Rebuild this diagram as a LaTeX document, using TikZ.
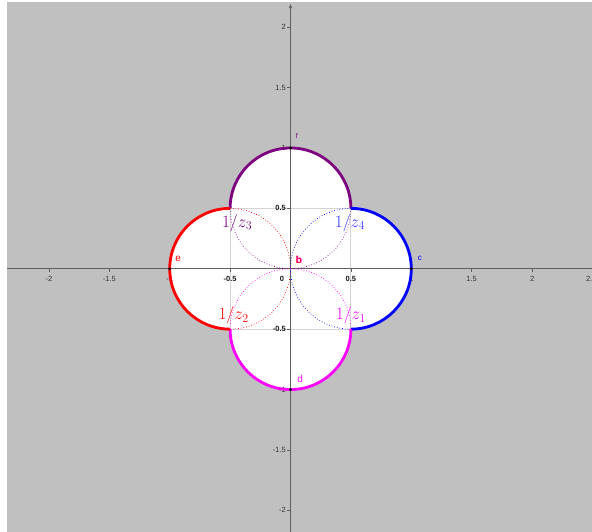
\documentclass[tikz,border=0pt]{standalone}
\usepackage{fontspec}
\setsansfont{Liberation Sans}
\usetikzlibrary{arrows.meta}
\definecolor{bggray}{RGB}{192,192,192}
\definecolor{gridgray}{RGB}{212,212,212}
\definecolor{axgray}{RGB}{95,95,95}
\definecolor{cred}{RGB}{255,0,0}
\definecolor{cblue}{RGB}{0,0,255}
\definecolor{cpurple}{RGB}{125,0,128}
\definecolor{cmag}{RGB}{255,0,255}
\begin{document}
\begin{tikzpicture}[x=120.8pt,y=120.8pt,
  ticklab/.style={font=\sffamily\fontsize{7.5}{9}\selectfont, text=black!80, inner sep=0pt},
  boldlab/.style={font=\sffamily\bfseries\fontsize{7.5}{9}\selectfont, text=black!90, inner sep=0pt},
  thickarc/.style={line width=2.8pt},
  dotarc/.style={dotted, line width=0.7pt},
  zlab/.style={font=\fontsize{17}{20}\selectfont, inner sep=0pt},
  ptlab/.style={font=\sffamily\fontsize{10}{12}\selectfont, inner sep=0pt},
  ptdot/.style={circle, fill=black, inner sep=0pt, minimum size=3pt},
  gridline/.style={draw=gridgray, line width=0.8pt},
  axisline/.style={draw=axgray, line width=1pt}]
\useasboundingbox (-2.405,-2.179) rectangle (2.496,2.225);
% background
\fill[bggray] (-2.347,-2.179) rectangle (2.496,2.209);
% white region
\fill[white] (-0.5,0.5) arc[start angle=180,end angle=0,radius=0.5]
  arc[start angle=90,end angle=-90,radius=0.5]
  arc[start angle=0,end angle=-180,radius=0.5]
  arc[start angle=270,end angle=90,radius=0.5] -- cycle;
% grid (visible only on the white region)
\begin{scope}
\clip (-0.5,0.5) arc[start angle=180,end angle=0,radius=0.5]
  arc[start angle=90,end angle=-90,radius=0.5]
  arc[start angle=0,end angle=-180,radius=0.5]
  arc[start angle=270,end angle=90,radius=0.5] -- cycle;
\foreach \k in {-0.5,0.5}{
  \draw[gridline] (\k,-1.1) -- (\k,1.1);
  \draw[gridline] (-1.1,\k) -- (1.1,\k);
}
\end{scope}
% axes
\draw[axisline] (-2.347,0) -- (2.496,0);
\draw[axisline,-{Stealth[length=4pt,width=3.5pt]}] (0,-2.179) -- (0,2.19);
\foreach \k in {-2,-1.5,-1,-0.5,0.5,1,1.5,2,2.5}{
  \draw[axgray,line width=0.6pt] (\k,0) -- (\k,-0.025);
}
\foreach \k in {-2,-1.5,-1,-0.5,0.5,1,1.5,2}{
  \draw[axgray,line width=0.6pt] (0,\k) -- (-0.025,\k);
}
% tick labels
\node[ticklab] (xm2) at (-2,-0.084) {-2};
\node[ticklab] (xm15) at (-1.5,-0.084) {-1.5};
\node[ticklab] (xm1) at (-1,-0.084) {-1};
\node[boldlab] (xm05) at (-0.5,-0.084) {-0.5};
\node[boldlab] (x0) at (-0.07,-0.084) {0};
\node[boldlab] (x05) at (0.5,-0.084) {0.5};
\node[ticklab] (x1) at (1,-0.084) {1};
\node[ticklab] (x15) at (1.5,-0.084) {1.5};
\node[ticklab] (x2) at (2,-0.084) {2};
\node[ticklab] (x25) at (2.49,-0.084) {2.5};
\node[ticklab,anchor=east] (y2) at (-0.037,2) {2};
\node[ticklab,anchor=east] (y15) at (-0.037,1.5) {1.5};
\node[ticklab,anchor=east] (y1) at (-0.037,1) {1};
\node[boldlab,anchor=east] (y05) at (-0.037,0.5) {0.5};
\node[boldlab,anchor=east] (ym05) at (-0.037,-0.5) {-0.5};
\node[ticklab,anchor=east] (ym1) at (-0.037,-1) {-1};
\node[ticklab,anchor=east] (ym15) at (-0.037,-1.5) {-1.5};
\node[ticklab,anchor=east] (ym2) at (-0.037,-2) {-2};
% dotted arcs
\draw[dotarc,cred] (-0.5,0.5) arc[start angle=90,end angle=0,radius=0.5];
\draw[dotarc,cred] (-0.5,-0.5) arc[start angle=270,end angle=360,radius=0.5];
\draw[dotarc,cpurple] (-0.5,0.5) arc[start angle=180,end angle=270,radius=0.5];
\draw[dotarc,cpurple] (0.5,0.5) arc[start angle=360,end angle=270,radius=0.5];
\draw[dotarc,cblue] (0.5,0.5) arc[start angle=90,end angle=180,radius=0.5];
\draw[dotarc,cblue] (0.5,-0.5) arc[start angle=270,end angle=180,radius=0.5];
\draw[dotarc,cmag] (0.5,-0.5) arc[start angle=0,end angle=90,radius=0.5];
\draw[dotarc,cmag] (-0.5,-0.5) arc[start angle=180,end angle=90,radius=0.5];
% thick boundary arcs
\draw[thickarc,cpurple] (-0.5,0.5) arc[start angle=180,end angle=0,radius=0.5];
\draw[thickarc,cblue] (0.5,0.5) arc[start angle=90,end angle=-90,radius=0.5];
\draw[thickarc,cmag] (0.5,-0.5) arc[start angle=0,end angle=-180,radius=0.5];
\draw[thickarc,cred] (-0.5,-0.5) arc[start angle=270,end angle=90,radius=0.5];
% points
\node[ptdot] (pe) at (-1,0) {};
\node[ptdot] (pc) at (1,0) {};
\node[ptdot] (pf) at (0,1) {};
\node[ptdot] (pd) at (0,-1) {};
% point labels
\node[ptlab,text=cred] (le) at (-0.93,0.083) {e};
\node[ptlab,text=cblue,font=\sffamily\fontsize{8}{10}\selectfont] (lc) at (1.07,0.083) {c};
\node[ptlab,text=cmag] (ld) at (0.079,-0.91) {d};
\node[ptlab,text=cpurple,font=\sffamily\fontsize{7}{8}\selectfont] (lf) at (0.053,1.1) {f};
\node[ptlab,text=cmag,font=\sffamily\bfseries\fontsize{10}{12}\selectfont] (lb2) at (0.072,0.075) {b};
\node[ptlab,text=cred,font=\sffamily\fontsize{10}{12}\selectfont] (lb) at (0.068,0.075) {b};
% z labels
\node[zlab,text=cpurple] (z3) at (-0.442,0.38) {$1/z_3$};
\node[zlab,text=cblue!80!white] (z4) at (0.492,0.38) {$1/z_4$};
\node[zlab,text=cred] (z2) at (-0.471,-0.384) {$1/z_2$};
\node[zlab,text=cmag] (z1) at (0.5,-0.384) {$1/z_1$};
\end{tikzpicture}
\end{document}
